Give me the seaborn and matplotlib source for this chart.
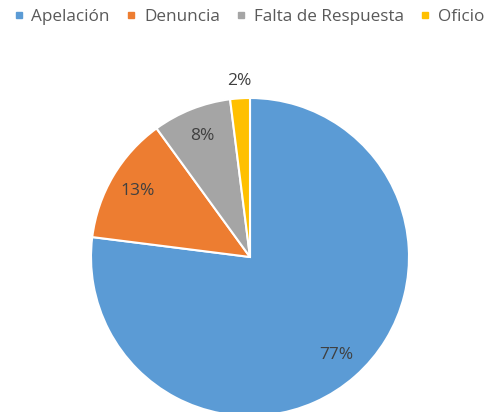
"""Pie chart: distribution of request types."""

import matplotlib

matplotlib.use("Agg")
import matplotlib.pyplot as plt
import numpy as np
import seaborn as sns
from matplotlib.lines import Line2D

labels = ["Apelación", "Denuncia", "Falta de Respuesta", "Oficio"]
shares = [77, 13, 8, 2]
colors = ["#5B9BD5", "#ED7D31", "#A5A5A5", "#FFC000"]

sns.set_theme(style="white")
plt.rcParams["font.family"] = ["Open Sans", "DejaVu Sans"]

W, H = 499, 412
fig = plt.figure(figsize=(W / 100, H / 100), dpi=100)
fig.patch.set_facecolor("white")

# pie centre (250, 257) px, radius 159 px
cx, cy, r = 250, 257, 159
ax = fig.add_axes([(cx - r) / W, (H - cy - r) / H, 2 * r / W, 2 * r / H])

wedges, texts, autotexts = ax.pie(
    shares,
    colors=colors,
    startangle=90,
    counterclock=False,
    radius=1,
    autopct=lambda p: f"{p:.0f}%",
    pctdistance=0.82,
    wedgeprops={"edgecolor": "white", "linewidth": 1.5},
    textprops={"fontsize": 12.5, "color": "#404040"},
)
ax.set_xlim(-1, 1)
ax.set_ylim(-1, 1)

# small slice label sits outside the pie
w = wedges[-1]
mid = np.deg2rad((w.theta1 + w.theta2) / 2)
autotexts[-1].set_position((1.11 * np.cos(mid), 1.11 * np.sin(mid)))

handles = [
    Line2D([], [], marker="s", linestyle="", markersize=5, color=c)
    for c in colors
]
fig.legend(
    handles,
    labels,
    loc="center",
    bbox_to_anchor=(0.5, 1 - 17 / H),
    ncol=4,
    frameon=False,
    fontsize=12.3,
    handlelength=0.5,
    handletextpad=0.5,
    columnspacing=1.0,
    borderpad=0.2,
    labelcolor="#595959",
)

fig.savefig("out.png", dpi=100)
plt.close(fig)
